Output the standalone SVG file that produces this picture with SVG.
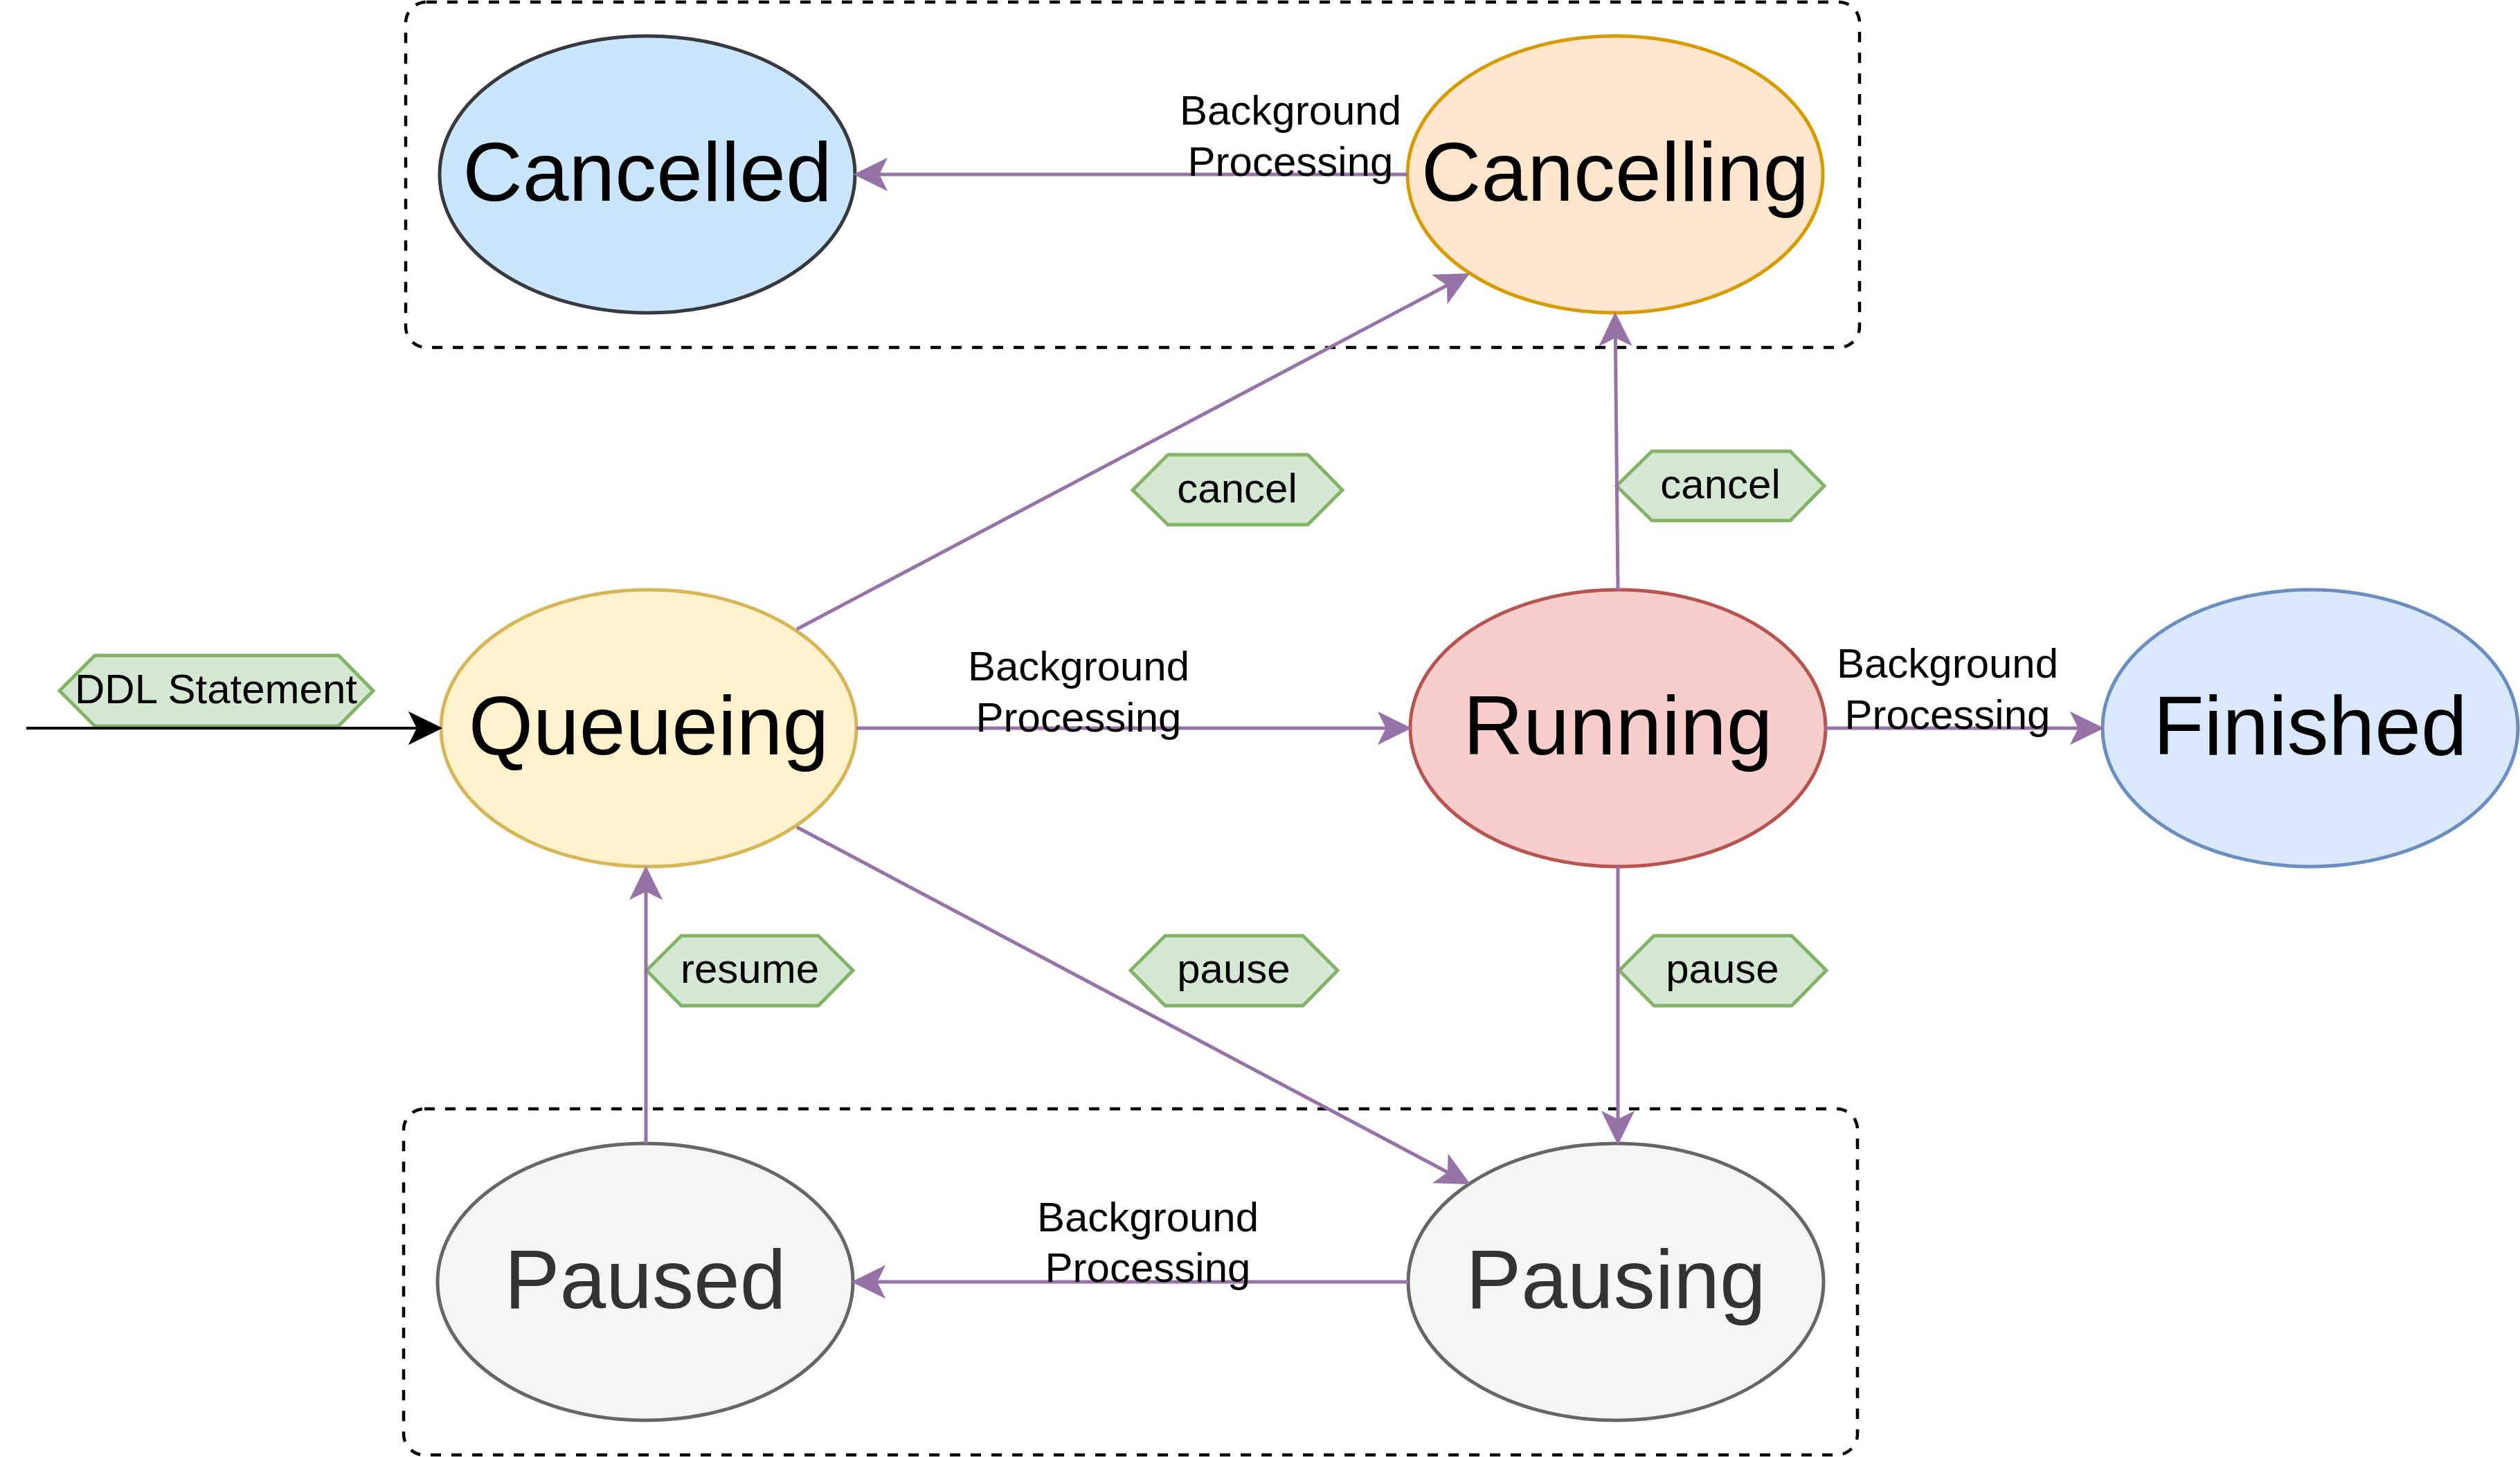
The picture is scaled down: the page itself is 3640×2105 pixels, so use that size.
<svg xmlns="http://www.w3.org/2000/svg" width="3640" height="2105" viewBox="0 0 3640 2105">
<style>
  text { font-family: "Liberation Sans", Arial, Helvetica, sans-serif; fill: #000000; text-anchor: middle; }
  .big { font-size: 120px; }
  .small { font-size: 60px; }
  .grey { fill: #333333; }
  .group { fill: none; stroke: #000000; stroke-width: 4.5; stroke-dasharray: 15 15; }
  .node { stroke-width: 5; }
  .hex { fill: #d5e8d4; stroke: #82b366; stroke-width: 5; }
  .edge { fill: none; stroke: #9673a6; stroke-width: 5; marker-end: url(#arr); }
  .start { fill: none; stroke: #000000; stroke-width: 4; marker-end: url(#arrBlack); }
</style>
<defs>
  <marker id="arr" markerUnits="userSpaceOnUse" orient="auto" markerWidth="60" markerHeight="60" viewBox="-20 -30 60 60" refX="0" refY="0" overflow="visible">
    <path d="M30,0 L-15,-22 L-4,0 L-15,22 Z" fill="#9673a6" stroke="#9673a6" stroke-width="2"/>
  </marker>
  <marker id="arrBlack" markerUnits="userSpaceOnUse" orient="auto" markerWidth="60" markerHeight="60" viewBox="-20 -30 60 60" refX="0" refY="0" overflow="visible">
    <path d="M30,0 L-15,-22 L-4,0 L-15,22 Z" fill="#000000" stroke="#000000" stroke-width="2"/>
  </marker>
</defs>
<rect width="3640" height="2105" fill="#ffffff"/>

<g id="group-cancel">
  <rect class="group" x="586" y="3" width="2100" height="499" rx="30" ry="30"/>
</g>
<g id="group-pause">
  <rect class="group" x="583" y="1602" width="2100" height="500" rx="30" ry="30"/>
</g>

<g id="node-cancelled">
  <ellipse class="node" cx="935" cy="252" rx="300" ry="200" fill="#cce5ff" stroke="#36393d"/>
  <text class="big" x="935" y="290">Cancelled</text>
</g>
<g id="node-cancelling">
  <ellipse class="node" cx="2333" cy="252" rx="300" ry="200" fill="#ffe6cc" stroke="#d79b00"/>
  <text class="big" x="2333" y="290">Cancelling</text>
</g>
<g id="node-queueing">
  <ellipse class="node" cx="937" cy="1052" rx="300" ry="200" fill="#fff2cc" stroke="#d6b656"/>
  <text class="big" x="937" y="1090">Queueing</text>
</g>
<g id="node-running">
  <ellipse class="node" cx="2337" cy="1052" rx="300" ry="200" fill="#f8cecc" stroke="#b85450"/>
  <text class="big" x="2337" y="1090">Running</text>
</g>
<g id="node-finished">
  <ellipse class="node" cx="3337" cy="1052" rx="300" ry="200" fill="#dae8fc" stroke="#6c8ebf"/>
  <text class="big" x="3337" y="1090">Finished</text>
</g>
<g id="node-paused">
  <ellipse class="node" cx="932" cy="1852" rx="300" ry="200" fill="#f5f5f5" stroke="#666666"/>
  <text class="big grey" x="932" y="1890">Paused</text>
</g>
<g id="node-pausing">
  <ellipse class="node" cx="2334" cy="1852" rx="300" ry="200" fill="#f5f5f5" stroke="#666666"/>
  <text class="big grey" x="2334" y="1890">Pausing</text>
</g>

<g id="label-ddl">
  <polygon class="hex" points="86,998 137,947 489,947 539,998 489,1049 137,1049"/>
  <text class="small" x="312" y="1016">DDL Statement</text>
</g>
<g id="label-cancel-queue">
  <polygon class="hex" points="1636,708 1687,657 1889,657 1939,708 1889,758 1687,758"/>
  <text class="small" x="1787" y="726">cancel</text>
</g>
<g id="label-cancel-run">
  <polygon class="hex" points="2335,702 2386,652 2586,652 2635,702 2586,752 2386,752"/>
  <text class="small" x="2485" y="720">cancel</text>
</g>
<g id="label-resume">
  <polygon class="hex" points="934,1402 984,1352 1182,1352 1232,1402 1182,1453 984,1453"/>
  <text class="small" x="1083" y="1420">resume</text>
</g>
<g id="label-pause-queue">
  <polygon class="hex" points="1633,1402 1683,1352 1882,1352 1932,1402 1882,1453 1683,1453"/>
  <text class="small" x="1782" y="1420">pause</text>
</g>
<g id="label-pause-run">
  <polygon class="hex" points="2339,1402 2389,1352 2588,1352 2638,1402 2588,1453 2389,1453"/>
  <text class="small" x="2488" y="1420">pause</text>
</g>

<g id="connectors">
  <line class="start" x1="38" y1="1052" x2="607" y2="1052"/>
  <line class="edge" x1="1237" y1="1052" x2="2007" y2="1052"/>
  <line class="edge" x1="2637" y1="1052" x2="3007" y2="1052"/>
  <line class="edge" x1="2033" y1="252" x2="1265" y2="252"/>
  <line class="edge" x1="2034" y1="1852" x2="1262" y2="1852"/>
  <line class="edge" x1="1151" y1="909" x2="2094.5" y2="410"/>
  <line class="edge" x1="1151" y1="1195" x2="2095.5" y2="1696"/>
  <line class="edge" x1="2337" y1="852" x2="2333.3" y2="483"/>
  <line class="edge" x1="2337" y1="1252" x2="2337" y2="1622"/>
  <line class="edge" x1="933" y1="1652" x2="933" y2="1283"/>
  <text class="small" x="1864" y="180">Background</text>
  <text class="small" x="1864" y="254">Processing</text>
  <text class="small" x="1558" y="983">Background</text>
  <text class="small" x="1558" y="1057">Processing</text>
  <text class="small" x="2813" y="979">Background</text>
  <text class="small" x="2813" y="1053">Processing</text>
  <text class="small" x="1658" y="1779">Background</text>
  <text class="small" x="1658" y="1852">Processing</text>
</g>
</svg>
